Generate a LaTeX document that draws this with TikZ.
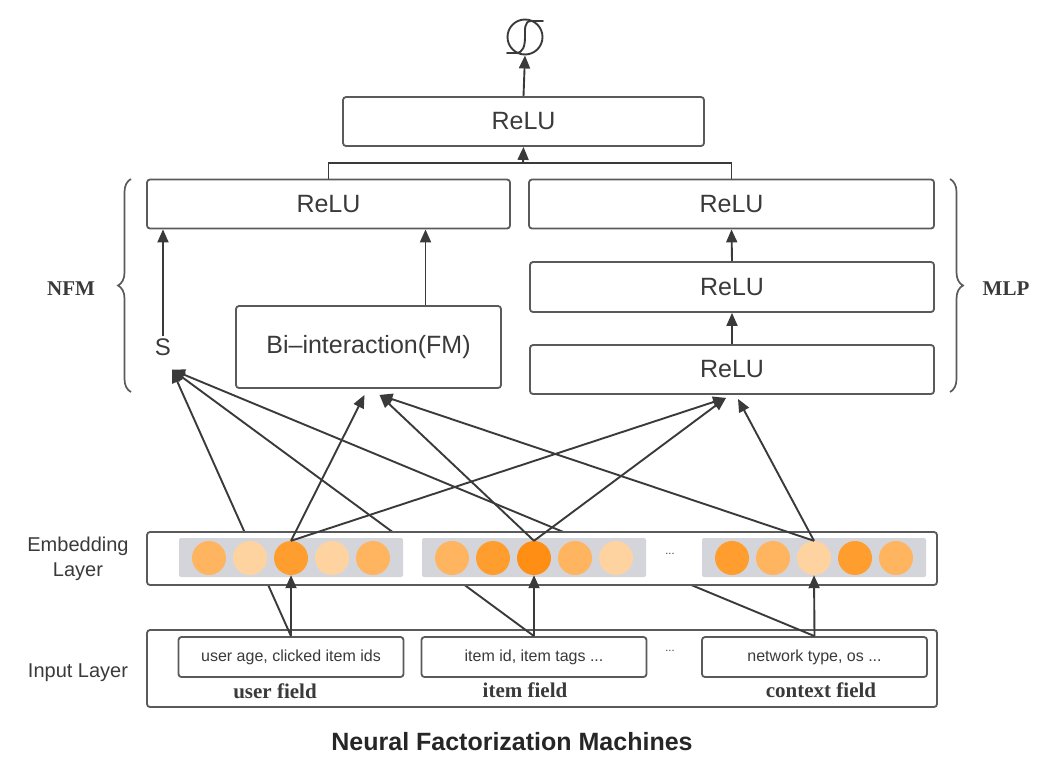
\documentclass[tikz,border=0pt]{standalone}
\usepackage{fontspec}
\setmainfont{Liberation Serif}
\setsansfont{Liberation Sans}
\usetikzlibrary{arrows.meta,decorations.pathreplacing,calc}
\definecolor{boxgray}{HTML}{5A5A5A}
\definecolor{txtgray}{HTML}{3A3A3A}
\definecolor{embgray}{HTML}{D4D5DA}
\definecolor{oA}{HTML}{FF8E14}
\definecolor{oB}{HTML}{FF9E2E}
\definecolor{oC}{HTML}{FFB460}
\definecolor{oD}{HTML}{FFD3A0}
\tikzset{
	layerbox/.style={draw=boxgray,line width=1.8pt,rounded corners=3pt,fill=white,text=txtgray,inner sep=0pt,
		font=\sffamily\fontsize{25}{30}\selectfont},
	fieldbox/.style={layerbox,minimum width=225pt,minimum height=40pt,font=\sffamily\fontsize{16}{20}\selectfont},
	fieldname/.style={text=txtgray,font=\bfseries\fontsize{21}{24}\selectfont},
	sidelabel/.style={text=txtgray,align=center,font=\sffamily\fontsize{20}{25}\selectfont},
	emb/.style={circle,minimum size=34pt,inner sep=0pt},
	arr/.style={draw=txtgray,line width=1.9pt,-{Triangle[length=13pt,width=11pt]}},
	lnk/.style={draw=txtgray,line width=1.9pt},
	bracegray/.style={decorate,decoration={brace,amplitude=13pt},draw=boxgray,line width=1.7pt}
}
\begin{document}
\begin{tikzpicture}[x=1pt,y=-1pt]
\useasboundingbox (0,0) rectangle (1040,772);
%output
\node[circle,draw=txtgray,line width=1.9pt,minimum size=35pt,inner sep=0pt] (sig) at (525,37) {};
\draw[lnk,line cap=round] (543,21) -- (531,21) .. controls (524,21) and (525,30) .. (525,37)
	.. controls (525,46) and (523,53) .. (516,53) -- (507,53);
\node[layerbox,minimum width=361pt,minimum height=49pt] (top) at (523.5,121.5) {ReLU};
\draw[arr] (top.north) -- (sig.south);
%NFM part
\node[layerbox,minimum width=363pt,minimum height=49pt] (reluL) at (328.5,204) {ReLU};
\node[layerbox,minimum width=265pt,minimum height=82pt] (biint) at (368.5,347) {Bi–interaction(FM)};
\node[text=txtgray,inner sep=2pt,font=\sffamily\fontsize{24}{28}\selectfont] (S) at (163,347) {S};
\draw[arr] (S.north) -- (S.north |- reluL.south);
\draw[arr] ([xshift=57pt]biint.north) -- ([xshift=57pt]biint.north |- reluL.south);
%MLP part
\node[layerbox,minimum width=405pt,minimum height=49pt] (reluR) at (731.5,204) {ReLU};
\node[layerbox,minimum width=404pt,minimum height=50pt] (mlp2) at (732,287) {ReLU};
\node[layerbox,minimum width=404pt,minimum height=49pt] (mlp1) at (732,369.5) {ReLU};
\draw[arr] (mlp1.north) -- (mlp2.south);
\draw[arr] (mlp2.north) -- (reluR.south);
%join
\coordinate (jn) at (523,163);
\draw[lnk] (reluL.north) |- (jn) -| (reluR.north);
\draw[arr] (jn) -- (top.south);
%braces
\draw[bracegray] (131,392) -- (131,179);
\node[fieldname] (nfm) at (71,289) {NFM};
\draw[bracegray] (950,179) -- (950,392);
\node[fieldname] (mlp) at (1006,289) {MLP};
%input layer
\node[layerbox,minimum width=790pt,minimum height=77pt] (inp) at (542,668.5) {};
\node[fieldbox] (inU) at (291,657) {user age, clicked item ids};
\node[fieldbox] (inI) at (534,657) {item id, item tags ...};
\node[fieldbox] (inC) at (814.5,657) {network type, os ...};
\node[text=txtgray,font=\sffamily\fontsize{11}{12}\selectfont] (dotI) at (670,651) {...};
\node[fieldname] (fu) at (275,691) {user field};
\node[fieldname] (fi) at (525,690) {item field};
\node[fieldname] (fc) at (821,690) {context field};
\node[sidelabel] (lin) at (78,673) {Input Layer};
%linear part, behind the embedding layer
\draw[arr] (inU.north) -- ([shift={(9pt,-12pt)}]S.south);
\draw[arr] (inI.north) -- ([shift={(9pt,-12pt)}]S.south);
\draw[arr] (inC.north) -- ([shift={(9pt,-12pt)}]S.south);
%embedding layer
\node[layerbox,minimum width=790pt,minimum height=53pt] (emb) at (542,558.5) {};
\foreach \gx/\gn in {291/u,534/i,814/c}
	\node[fill=embgray,rounded corners=2pt,minimum width=224pt,minimum height=39pt,inner sep=0pt] (g\gn) at (\gx,557.5) {};
\foreach \col [count=\k] in {oC,oD,oB,oD,oC}
	\node[emb,fill=\col] (eu\k) at (291+41*\k-123,558) {};
\foreach \col [count=\k] in {oC,oB,oA,oC,oD}
	\node[emb,fill=\col] (ei\k) at (534+41*\k-123,558) {};
\foreach \col [count=\k] in {oB,oC,oD,oB,oC}
	\node[emb,fill=\col] (ec\k) at (814+41*\k-123,558) {};
\node[text=txtgray,font=\sffamily\fontsize{11}{12}\selectfont] (dotE) at (670,554) {...};
\node[sidelabel] (lemb) at (78,559) {Embedding\\Layer};
%input to embedding
\draw[arr] (inU.north) -- (eu3.south);
\draw[arr] (inI.north) -- (ei3.south);
\draw[arr] (inC.north) -- (ec3.south);
%embedding to Bi-interaction and MLP
\draw[arr] (eu3.north) -- ([shift={(-4pt,-6pt)}]biint.south);
\draw[arr] (ei3.north) -- ([shift={(11pt,-6pt)}]biint.south);
\draw[arr] (ec3.north) -- ([shift={(11pt,-6pt)}]biint.south);
\draw[arr] (eu3.north) -- ([shift={(-6pt,-3pt)}]mlp1.south);
\draw[arr] (ei3.north) -- ([shift={(-6pt,-3pt)}]mlp1.south);
\draw[arr] (ec3.north) -- ([shift={(6pt,-4pt)}]mlp1.south);
%title
\node[text=black!85,font=\sffamily\bfseries\fontsize{25}{30}\selectfont] (title) at (512,742) {Neural Factorization Machines};
\end{tikzpicture}
\end{document}
